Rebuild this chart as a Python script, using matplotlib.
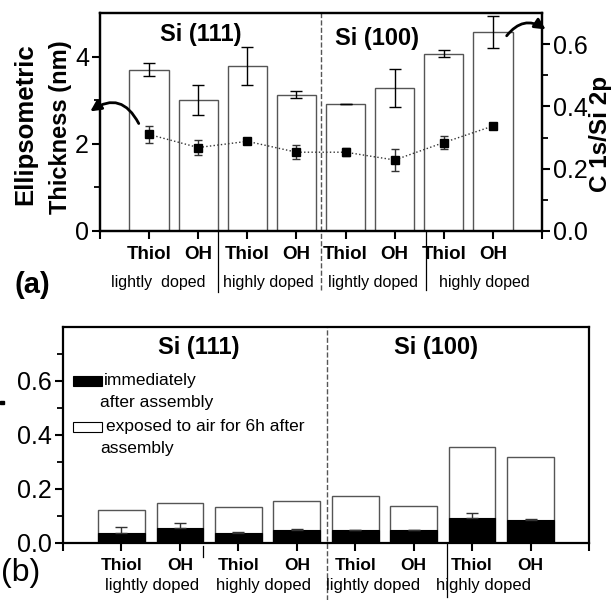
import numpy as np
import matplotlib
matplotlib.use("Agg")
import matplotlib.pyplot as plt
from matplotlib.patches import Rectangle

plt.rcParams['font.family'] = ['Liberation Sans', 'DejaVu Sans']

W, H = 613, 600

groups = ["Thiol", "OH", "Thiol", "OH", "Thiol", "OH", "Thiol", "OH"]
doping = ["lightly  doped", "highly doped", "lightly doped", "highly doped"]

# panel (a): ellipsometric thickness (nm) and C 1s / Si 2p ratio
thickness = [3.70, 3.00, 3.78, 3.13, 2.92, 3.28, 4.07, 4.56]
thickness_err = [0.15, 0.35, 0.43, 0.07, 0.0, 0.43, 0.07, 0.36]
ratio = [0.310, 0.268, 0.288, 0.253, 0.253, 0.228, 0.284, 0.337]
ratio_err = [0.028, 0.024, 0.010, 0.022, 0.012, 0.034, 0.022, 0.0]

# panel (b): immediately after assembly vs exposed to air for 6h
fresh = [0.036, 0.056, 0.038, 0.050, 0.048, 0.048, 0.091, 0.087]
fresh_err = [0.024, 0.019, 0.002, 0.003, 0.002, 0.001, 0.021, 0.003]
aged = [0.121, 0.150, 0.134, 0.156, 0.173, 0.136, 0.355, 0.319]

x = np.arange(1, 9)

fig = plt.figure(figsize=(W / 100, H / 100), dpi=100)


def px_axes(l, t, r, b):
    return fig.add_axes([l / W, 1 - b / H, (r - l) / W, (b - t) / H])


def style_axis(ax):
    for s in ax.spines.values():
        s.set_linewidth(1.6)
    ax.tick_params(which='major', direction='out', length=6, width=1.5)
    ax.tick_params(which='minor', direction='out', length=4, width=1.3)


# ---------------- panel (a)
ax1 = px_axes(100, 13, 542, 231)
ax1.bar(x, thickness, width=0.8, color='white', edgecolor='#555555', linewidth=1.0, zorder=2)
ax1.errorbar(x, thickness, yerr=thickness_err, fmt='none', ecolor='black',
             elinewidth=1.0, capsize=4, capthick=1.0, zorder=3)
ax1.set_xlim(0, 9)
ax1.set_ylim(0, 5)
ax1.set_xticks(np.arange(0, 10))
ax1.set_xticklabels([])
ax1.set_yticks([0, 2, 4])
ax1.set_yticks([1, 3], minor=True)
ax1.tick_params(axis='y', labelsize=18, pad=2)
style_axis(ax1)

ax1r = ax1.twinx()
ax1r.errorbar(x, ratio, yerr=ratio_err, fmt='s', color='black', markersize=6,
              ecolor='#333333', elinewidth=1.0, capsize=3, zorder=4)
ax1r.plot(x, ratio, ':', color='#333333', linewidth=1.0)
ax1r.set_ylim(0, 0.7)
ax1r.set_yticks([0.0, 0.2, 0.4, 0.6])
ax1r.set_yticklabels(["0.0", "0.2", "0.4", "0.6"])
ax1r.set_yticks([0.1, 0.3, 0.5], minor=True)
ax1r.tick_params(axis='y', labelsize=18, pad=2)
style_axis(ax1r)

ax1.axvline(4.5, ymin=-0.27, ymax=1, color='#555555', linestyle='--', linewidth=1.0, clip_on=False)
ax1.axvline(2.4, ymin=-0.28, ymax=0, color='black', linewidth=0.9, clip_on=False)
ax1.axvline(6.64, ymin=-0.27, ymax=0, color='black', linewidth=0.9, clip_on=False)

tr = ax1.get_xaxis_transform()
for xi, g in zip(x, groups):
    ax1.text(xi, -0.11, g, transform=tr, ha='center', va='center', fontsize=13.5, fontweight='bold')
for xi, d in zip([1.18, 3.42, 5.55, 7.83], doping):
    ax1.text(xi, -0.235, d, transform=tr, ha='center', va='center', fontsize=11.5)

ax1.text(2.05, 0.9, "Si (111)", transform=tr, ha='center', va='center', fontsize=17, fontweight='bold')
ax1.text(5.65, 0.885, "Si (100)", transform=tr, ha='center', va='center', fontsize=17, fontweight='bold')

fig.text(25 / W, 1 - 124 / H, "Ellipsometric", rotation=90, ha='center', va='center',
         fontsize=18.5, fontweight='bold')
fig.text(60 / W, 1 - 127 / H, "Thickness (nm)", rotation=90, ha='center', va='center',
         fontsize=17, fontweight='bold')
fig.text(601 / W, 1 - 134 / H, "C 1s/Si 2p", rotation=90, ha='center', va='center',
         fontsize=17.5, fontweight='bold')
fig.text(15 / W, 1 - 285 / H, "(a)", ha='left', va='center', fontsize=21, fontweight='bold')

fig.patches.append(Rectangle((0, 1 - 404 / H), 4 / W, 3 / H, transform=fig.transFigure,
                             color='black'))

arrow = dict(arrowstyle='-|>', color='black', lw=2.0, mutation_scale=16)
ax1.annotate("", xy=(88, H - 113), xycoords='figure pixels',
             xytext=(140, H - 126), textcoords='figure pixels',
             arrowprops=dict(arrow, connectionstyle="arc3,rad=0.6"))
ax1.annotate("", xy=(548, H - 31), xycoords='figure pixels',
             xytext=(505, H - 38), textcoords='figure pixels',
             arrowprops=dict(arrow, connectionstyle="arc3,rad=-0.5"))

# ---------------- panel (b)
ax2 = px_axes(63, 327, 589, 543)
ax2.bar(x, aged, width=0.8, color='white', edgecolor='#555555', linewidth=1.0, zorder=2)
ax2.bar(x, fresh, width=0.8, color='black', edgecolor='black', linewidth=0.8, zorder=3)
ax2.errorbar(x, fresh, yerr=[np.zeros(8), fresh_err], fmt='none', ecolor='#333333',
             elinewidth=1.0, capsize=4, capthick=1.0, zorder=4)
ax2.set_xlim(0, 9)
ax2.set_ylim(0, 0.8)
ax2.set_xticks(np.arange(0, 10))
ax2.set_xticklabels([])
ax2.set_yticks([0.0, 0.2, 0.4, 0.6])
ax2.set_yticklabels(["0.0", "0.2", "0.4", "0.6"])
ax2.set_yticks([0.1, 0.3, 0.5, 0.7], minor=True)
ax2.tick_params(axis='y', labelsize=18, pad=2)
style_axis(ax2)

ax2.axvline(4.51, ymin=-0.265, ymax=1, color='#555555', linestyle='--', linewidth=1.0, clip_on=False)
ax2.axvline(2.4, ymin=-0.065, ymax=-0.015, color='black', linewidth=0.9, clip_on=False)
ax2.axvline(6.57, ymin=-0.25, ymax=0, color='black', linewidth=0.9, clip_on=False)

tr2 = ax2.get_xaxis_transform()
for xi, g in zip(x, groups):
    ax2.text(xi, -0.105, g, transform=tr2, ha='center', va='center', fontsize=12.5, fontweight='bold')
for xi, d in zip([1.53, 3.43, 5.3, 7.2], ["lightly doped", "highly doped", "lightly doped", "highly doped"]):
    ax2.text(xi, -0.195, d, transform=tr2, ha='center', va='center', fontsize=12)

ax2.text(2.32, 0.905, "Si (111)", transform=tr2, ha='center', va='center', fontsize=17, fontweight='bold')
ax2.text(6.38, 0.905, "Si (100)", transform=tr2, ha='center', va='center', fontsize=17, fontweight='bold')

fig.text(1 / W, 1 - 573 / H, "(b)", ha='left', va='center', fontsize=23)


def ax2_pt(px, py):
    return ((px - 63) / 526, (543 - py) / 216)


lx, ly = ax2_pt(73, 386)
ax2.add_patch(Rectangle((lx, ly), 29 / 526, 10 / 216, transform=ax2.transAxes,
                        facecolor='black', edgecolor='black', lw=0.8))
lx, ly = ax2_pt(73, 432)
ax2.add_patch(Rectangle((lx, ly), 29 / 526, 10 / 216, transform=ax2.transAxes,
                        facecolor='white', edgecolor='black', lw=0.8))
for px, py, s in [(104, 381, "immediately"), (100, 403, "after assembly"),
                  (106, 427, "exposed to air for 6h after"), (100, 449, "assembly")]:
    tx, ty = ax2_pt(px, py)
    ax2.text(tx, ty, s, transform=ax2.transAxes, ha='left', va='center', fontsize=12.5)

fig.savefig("out.png", dpi=100)
